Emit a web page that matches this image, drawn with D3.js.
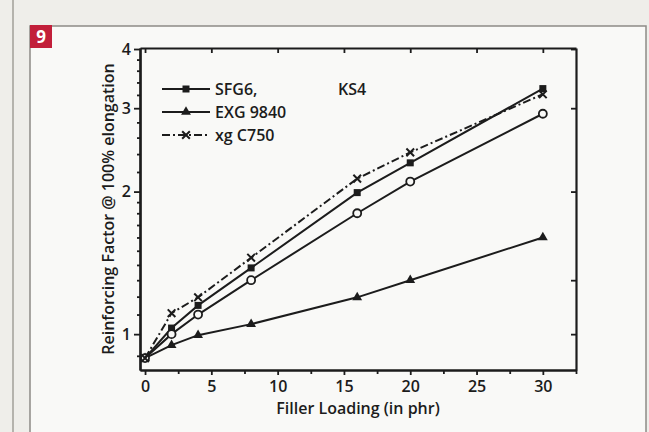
<!DOCTYPE html>
<html>
<head>
<meta charset="utf-8">
<script src="https://cdn.jsdelivr.net/npm/d3@7"></script>
<style>
  body { margin: 0; background: #efeeea; }
  svg text { font-family: "Open Sans", "DejaVu Sans", sans-serif; font-weight: 600; fill: #1c1c1c; }
</style>
</head>
<body>
<svg id="chart" width="649" height="432"></svg>
<script>
// filler loading in phr
const loading = [0, 2, 4, 8, 16, 20, 30];
// reinforcing factor @ 100% elongation
const sfg6    = [0.89, 1.03, 1.15, 1.38, 1.99, 2.30, 3.30];
const exg9840 = [0.89, 0.948, 0.995, 1.05, 1.196, 1.30, 1.60];
const ks4     = [0.89, 1.00, 1.10, 1.30, 1.80, 2.10, 2.92];
const xgC750  = [0.89, 1.107, 1.196, 1.45, 2.13, 2.42, 3.21];

const xTicks = [0, 5, 10, 15, 20, 25, 30];
const xMinor = [2.5, 7.5, 12.5, 17.5, 22.5, 27.5, 32.5];
const yTicks = [1, 2, 3, 4];
const yMinor = [0.9, 1.1, 1.2, 1.3, 1.4, 1.5, 1.6, 1.7, 1.8, 1.9,
                2.2, 2.4, 2.6, 2.8, 3.2, 3.4, 3.6, 3.8];

const svg = d3.select('#chart');
const ink = '#1c1c1c';

// page / box
svg.append('rect').attr('width', 649).attr('height', 432).attr('fill', '#efeeea');
svg.append('line').attr('x1', 13).attr('x2', 13).attr('y1', 0).attr('y2', 432)
  .attr('stroke', '#b5b3ad').attr('stroke-width', 2);
svg.append('rect').attr('x', 30).attr('y', 26).attr('width', 616).attr('height', 420)
  .attr('fill', '#f9f9f7').attr('stroke', '#8d8b86').attr('stroke-width', 1.5);
svg.append('rect').attr('x', 30).attr('y', 25).attr('width', 22).attr('height', 23).attr('fill', '#c21f3a');
svg.append('text').attr('x', 41).attr('y', 43).attr('text-anchor', 'middle')
  .style('fill', '#fff').style('font-size', '17px').style('font-weight', 700).text('9');

const x = d3.scaleLinear().domain([-0.38, 32.5]).range([140, 576]);
const y = d3.scaleLog().domain([0.84, 4.02]).range([370, 48]);

// axes
function styleAxis(g) {
  g.selectAll('path').attr('stroke', ink).attr('stroke-width', 2.2);
  g.selectAll('line').attr('stroke', ink).attr('stroke-width', 1.8);
  g.selectAll('text').style('font-size', '16px').style('fill', ink);
}
svg.append('g').attr('transform', 'translate(0,370)')
  .call(d3.axisBottom(x).tickValues(xMinor).tickSize(4).tickFormat('').tickSizeOuter(0)).call(styleAxis);
svg.append('g').attr('transform', 'translate(0,370)')
  .call(d3.axisBottom(x).tickValues(xTicks).tickSize(5).tickPadding(6).tickSizeOuter(0)).call(styleAxis);
svg.append('g').attr('transform', 'translate(0,48)')
  .call(d3.axisTop(x).tickValues(xTicks).tickSize(-5).tickFormat('').tickSizeOuter(0)).call(styleAxis);
svg.append('g').attr('transform', 'translate(140,0)')
  .call(d3.axisLeft(y).tickValues(yMinor).tickSize(3).tickFormat('').tickSizeOuter(0)).call(styleAxis);
svg.append('g').attr('transform', 'translate(140,0)')
  .call(d3.axisLeft(y).tickValues(yTicks).tickSize(6).tickPadding(3).tickFormat(d3.format('d')).tickSizeOuter(0)).call(styleAxis);
svg.append('g').attr('transform', 'translate(576,0)')
  .call(d3.axisRight(y).tickValues(yTicks.concat([1.3])).tickSize(-5).tickFormat('').tickSizeOuter(0)).call(styleAxis);

svg.append('text').attr('x', 358).attr('y', 414).attr('text-anchor', 'middle')
  .style('font-size', '16px').text('Filler Loading (in phr)');
svg.append('text').attr('transform', 'translate(114,209) rotate(-90)').attr('text-anchor', 'middle')
  .style('font-size', '16px').text('Reinforcing Factor @ 100% elongation');

// series
const series = [
  { name: 'SFG6,', vals: sfg6, marker: 'square', dash: null },
  { name: 'EXG 9840', vals: exg9840, marker: 'triangle', dash: null },
  { name: 'KS4', vals: ks4, marker: 'circle', dash: null },
  { name: 'xg C750', vals: xgC750, marker: 'cross', dash: '8,3,2,3' }
];

const line = d3.line().x(d => x(d[0])).y(d => y(d[1]));

function drawMarker(g, type, cx, cy) {
  if (type === 'square') {
    g.append('rect').attr('x', cx - 3.5).attr('y', cy - 3.5).attr('width', 7).attr('height', 7).attr('fill', ink);
  } else if (type === 'triangle') {
    g.append('path').attr('d', d3.symbol(d3.symbolTriangle, 42)()).attr('transform', `translate(${cx},${cy})`).attr('fill', ink);
  } else if (type === 'circle') {
    g.append('circle').attr('cx', cx).attr('cy', cy).attr('r', 4).attr('fill', '#f9f9f7')
      .attr('stroke', ink).attr('stroke-width', 1.8);
  } else if (type === 'cross') {
    g.append('path').attr('d', d3.symbol(d3.symbolX, 40)()).attr('transform', `translate(${cx},${cy})`)
      .attr('stroke', ink).attr('stroke-width', 2).attr('fill', 'none');
  }
}

series.forEach(s => {
  const pts = loading.map((l, i) => [l, s.vals[i]]);
  svg.append('path').datum(pts).attr('d', line).attr('fill', 'none')
    .attr('stroke', ink).attr('stroke-width', 2)
    .attr('stroke-dasharray', s.dash);
  const g = svg.append('g');
  pts.forEach(p => drawMarker(g, s.marker, x(p[0]), y(p[1])));
});

// legend
const legendItems = [series[0], series[1], series[3]];
legendItems.forEach((s, i) => {
  const ly = 89 + i * 23;
  const g = svg.append('g');
  g.append('line').attr('x1', 162).attr('x2', 210).attr('y1', ly).attr('y2', ly)
    .attr('stroke', ink).attr('stroke-width', 2).attr('stroke-dasharray', s.dash);
  drawMarker(g, s.marker, 186, ly);
  g.append('text').attr('x', 215).attr('y', ly + 6).style('font-size', '16px').text(s.name);
});
svg.append('text').attr('x', 338).attr('y', 95).style('font-size', '16px').text('KS4');
</script>
</body>
</html>
